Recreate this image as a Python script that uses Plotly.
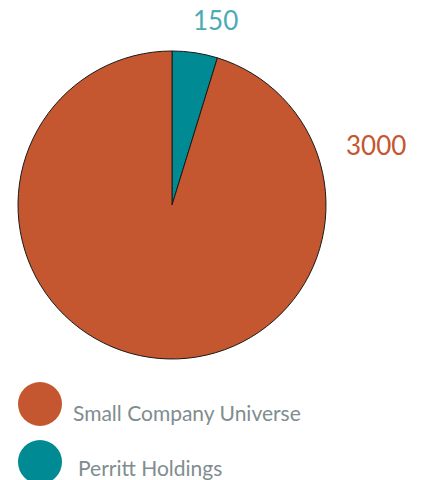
import plotly.graph_objects as go

labels = ["Perritt Holdings", "Small Company Universe"]
values = [150, 3000]
colors = ["#008A94", "#C4572F"]
label_colors = ["#4DAAB6", "#C4572F"]
value_text = ["150", "3000"]

W, H = 422, 480

fig = go.Figure()
fig.add_trace(go.Pie(
    labels=labels, values=values, sort=False, direction="clockwise", rotation=0,
    marker=dict(colors=colors, line=dict(color="#1a1a1a", width=1)),
    textinfo="none", hoverinfo="label+value", showlegend=False,
    domain=dict(x=[18 / W, 326 / W], y=[1 - 359 / H, 1 - 51 / H]),
))

# value labels
label_pos = [(216, 20), (376, 145)]
for txt, col, (px, py) in zip(value_text, label_colors, label_pos):
    fig.add_annotation(x=px / W, y=1 - py / H, xref="paper", yref="paper",
                       text=txt, showarrow=False, xanchor="center", yanchor="middle",
                       font=dict(family="Lato, sans-serif", size=26, color=col))

# custom legend (large circles)
legend_items = [("Small Company Universe", colors[1], 404, 71, 412),
                ("Perritt Holdings", colors[0], 462, 76, 467)]
for name, col, cy, tx, ty in legend_items:
    r = 22
    fig.add_shape(type="circle", xref="paper", yref="paper",
                  x0=(40 - r) / W, x1=(40 + r) / W, y0=1 - (cy + r) / H, y1=1 - (cy - r) / H,
                  fillcolor=col, line=dict(width=0))
    fig.add_annotation(x=tx / W, y=1 - ty / H, xref="paper", yref="paper",
                       text=name, showarrow=False, xanchor="left", yanchor="middle",
                       font=dict(family="Lato, sans-serif", size=21, color="#808D8E"))

fig.update_layout(width=W, height=H, margin=dict(l=0, r=0, t=0, b=0),
                  paper_bgcolor="white", plot_bgcolor="white", showlegend=False)
fig.write_html("out.html")
